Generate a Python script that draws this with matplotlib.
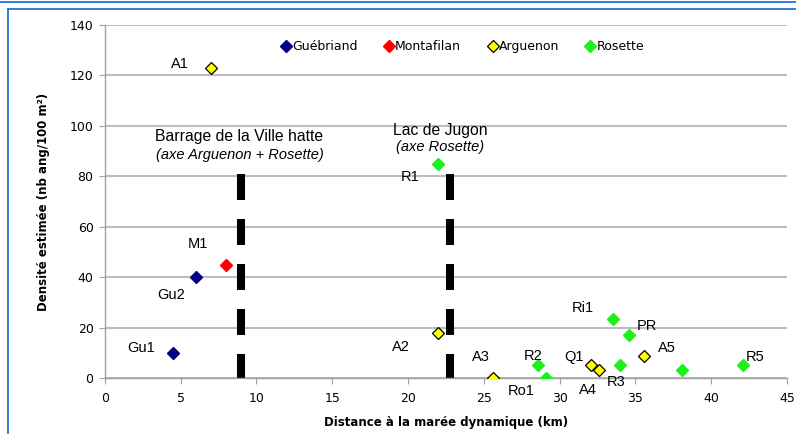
import matplotlib
matplotlib.use("Agg")
import matplotlib.pyplot as plt
from matplotlib.lines import Line2D

matplotlib.rcParams["lines.scale_dashes"] = False

# ---- data ----
gueb_x = [4.5, 6.0]
gueb_y = [10, 40]
gueb_lab = ["Gu1", "Gu2"]

mont_x = [8.0]
mont_y = [45]
mont_lab = ["M1"]

argu_x = [7.0, 22.0, 25.6, 32.1, 32.6, 35.6]
argu_y = [123, 18, 0, 5.3, 3.4, 8.7]
argu_lab = ["A1", "A2", "A3", "Q1", "A4", "A5"]

ros_x = [22.0, 28.6, 29.1, 33.5, 34.6, 34.0, 38.1, 42.1]
ros_y = [85, 5.1, 0, 23.4, 17, 5.3, 3.3, 5.3]
ros_lab = ["R1", "R2", "Ro1", "Ri1", "PR", "R3", "", "R5"]

barrier_x = [9.0, 22.8]
barrier_top = 81

# label offsets in pixels (dx, dy up)
offsets = {
    "A1": (-31, 4), "Gu2": (-25, -18), "M1": (-28, 21), "Gu1": (-32, 5),
    "R1": (-28, -13), "A2": (-37, -14), "A3": (-12, 21), "R2": (-5, 9),
    "Ro1": (-25, -13), "Q1": (-17, 8), "A4": (-11, -20), "R3": (-4, -17),
    "Ri1": (-30, 11), "PR": (18, 9), "A5": (22, 8), "R5": (12, 8),
}

W, H = 796, 434
AX_L, AX_R, AX_T, AX_B = 104.7, 787.0, 25.0, 378.3
fig = plt.figure(figsize=(W / 100, H / 100), dpi=100)
ax = fig.add_axes([AX_L / W, 1 - AX_B / H, (AX_R - AX_L) / W, (AX_B - AX_T) / H])


def axfrac(px, py):
    return ((px - AX_L) / (AX_R - AX_L), (AX_B - py) / (AX_B - AX_T))


ax.set_xlim(0, 45)
ax.set_ylim(0, 140)
ax.set_xticks(range(0, 46, 5))
ax.set_yticks(range(0, 141, 20))
ax.grid(axis="y", color="#bdbdbd", linewidth=1.5)
ax.set_axisbelow(True)
for s in ["top", "right"]:
    ax.spines[s].set_visible(False)
for s in ["left", "bottom"]:
    ax.spines[s].set_color("#a0a0a0")
    ax.spines[s].set_linewidth(1.0)
ax.tick_params(axis="both", colors="#a0a0a0", labelcolor="black", length=4,
               labelsize=9)
ax.tick_params(axis="x", pad=6)
ax.tick_params(axis="y", pad=4)

# barrier dashed lines
for bx in barrier_x:
    ax.plot([bx, bx], [barrier_top, 0], color="black", linewidth=5.8,
            dashes=(18.7, 13.7), dash_capstyle="butt", zorder=2)

ms = 6
ax.plot(gueb_x, gueb_y, "D", color="#000080", markersize=ms, label="Guébriand",
        zorder=3)
ax.plot(mont_x, mont_y, "D", color="#ff0000", markersize=ms, label="Montafilan",
        zorder=3)
ax.plot(argu_x, argu_y, "D", markerfacecolor="#ffff00", markeredgecolor="black",
        markeredgewidth=0.9, markersize=ms, linestyle="none", label="Arguenon",
        zorder=3)
ax.plot(ros_x, ros_y, "D", color="#1ef01e", markersize=ms, label="Rosette",
        zorder=3)

for xs, ys, labs in [(gueb_x, gueb_y, gueb_lab), (mont_x, mont_y, mont_lab),
                     (argu_x, argu_y, argu_lab), (ros_x, ros_y, ros_lab)]:
    for x, y, t in zip(xs, ys, labs):
        if not t:
            continue
        dx, dy = offsets[t]
        ax.annotate(t, (x, y), xytext=(dx * 0.72, dy * 0.72),
                    textcoords="offset points", ha="center", va="center",
                    fontsize=10.5, family="Liberation Sans", zorder=4)

# barrier annotations
ax.text(*axfrac(239, 136), "Barrage de la Ville hatte", transform=ax.transAxes,
        fontsize=11.3, family="Liberation Sans", ha="center", va="center")
ax.text(*axfrac(240, 155), "(axe Arguenon + Rosette)", transform=ax.transAxes,
        fontsize=10.5, family="Liberation Sans", style="italic",
        ha="center", va="center")
ax.text(*axfrac(440, 130), "Lac de Jugon", transform=ax.transAxes,
        fontsize=11.3, family="Liberation Sans", ha="center", va="center")
ax.text(*axfrac(440, 147), "(axe Rosette)", transform=ax.transAxes,
        fontsize=10.5, family="Liberation Sans", style="italic",
        ha="center", va="center")

leg = ax.legend(loc="center", bbox_to_anchor=axfrac(462, 46.7),
                ncol=4, frameon=False, fontsize=9, handletextpad=0.0,
                columnspacing=2.0, handlelength=1.0, markerscale=1.0)

ax.set_xlabel("Distance à la marée dynamique (km)", fontsize=8.5,
              fontweight="bold", labelpad=8)
ax.set_ylabel("Densité estimée (nb ang/100 m²)", fontsize=8.5,
              fontweight="bold", labelpad=14)

# blue frame
blue = "#2472d6"
fig.add_artist(Line2D([0, 1], [1 - 2 / H, 1 - 2 / H], color=blue, lw=1.3,
                      transform=fig.transFigure))
fig.add_artist(Line2D([8 / W, 1], [1 - 9 / H, 1 - 9 / H], color=blue, lw=1.3,
                      transform=fig.transFigure))
fig.add_artist(Line2D([8 / W, 8 / W], [0, 1 - 9 / H], color=blue, lw=1.3,
                      transform=fig.transFigure))

fig.savefig("out.png", dpi=100)
